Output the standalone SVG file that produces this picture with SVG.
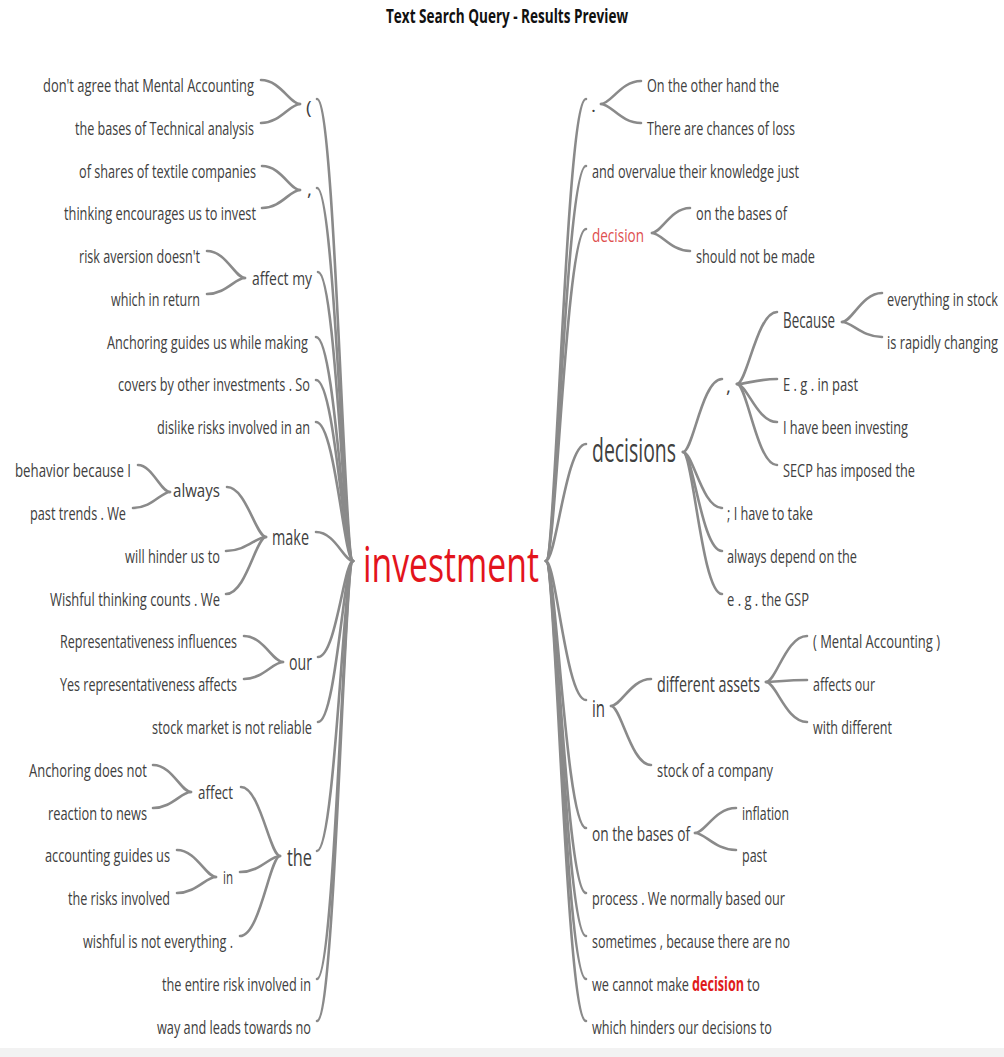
<svg xmlns="http://www.w3.org/2000/svg" width="1004" height="1057" viewBox="0 0 1004 1057">
  <style>
    text { font-family: "Open Sans", "Noto Sans", "DejaVu Sans", sans-serif; fill: #404040; }
    .leaf { font-size: 19px; }
    .mid { font-size: 21px; }
    .title { font-size: 19px; font-weight: bold; fill: #111; }
    .root { font-size: 50px; fill: #e3141c; }
    .hl { fill: #de4f4f; }
    .hlb { fill: #e01b1b; font-weight: bold; }
    #connectors path { fill: none; stroke: #8a8a8a; stroke-width: 2.6; stroke-linecap: round; }
  </style>

  <rect x="0" y="0" width="1004" height="1057" fill="#ffffff"/>
  <rect x="0" y="1048" width="1004" height="9" fill="#f2f2f2"/>

  <text class="title" x="386" y="23" textLength="242" lengthAdjust="spacingAndGlyphs">Text Search Query - Results Preview</text>

  <g id="connectors">
    <!-- root to left branches -->
    <path d="M353 561 C344 561 335 99 317 99"/>
    <path d="M353 561 C344 561 335 188 317 188"/>
    <path d="M353 561 C344 561 336 272 318 272"/>
    <path d="M353 561 C344 561 335 337 316 337"/>
    <path d="M353 561 C344 561 335 380 316 380"/>
    <path d="M353 561 C344 561 335 422 316 422"/>
    <path d="M353 561 C344 561 335 532 316 532"/>
    <path d="M353 561 C344 561 336 657 318 657"/>
    <path d="M353 561 C344 561 336 722 318 722"/>
    <path d="M353 561 C344 561 335 851 317 851"/>
    <path d="M353 561 C344 561 335 979 317 979"/>
    <path d="M353 561 C344 561 335 1021 317 1021"/>
    <!-- root to right branches -->
    <path d="M546 561 C556 561 566 99 586 99"/>
    <path d="M546 561 C556 561 566 166 586 166"/>
    <path d="M546 561 C556 561 566 229 586 229"/>
    <path d="M546 561 C556 561 566 444 586 444"/>
    <path d="M546 561 C556 561 566 700 586 700"/>
    <path d="M546 561 C556 561 566 828 586 828"/>
    <path d="M546 561 C556 561 566 893 586 893"/>
    <path d="M546 561 C556 561 566 936 586 936"/>
    <path d="M546 561 C556 561 566 979 586 979"/>
    <path d="M546 561 C556 561 566 1021 586 1021"/>
    <!-- left sub-branches -->
    <path d="M300 104 C290 104 280 80 261 80"/>
    <path d="M300 104 C290 104 280 123 261 123"/>
    <path d="M300 190 C290 190 281 166 262 166"/>
    <path d="M300 190 C290 190 281 208 262 208"/>
    <path d="M245 278 C235 278 226 251 207 251"/>
    <path d="M245 278 C235 278 226 294 207 294"/>
    <path d="M266 537 C256 537 246 487 227 487"/>
    <path d="M266 537 C256 537 246 551 226 551"/>
    <path d="M266 537 C256 537 246 594 226 594"/>
    <path d="M170 492 C161 492 152 465 138 465"/>
    <path d="M170 492 C161 492 152 508 133 508"/>
    <path d="M283 662 C273 662 263 636 244 636"/>
    <path d="M283 662 C273 662 263 679 244 679"/>
    <path d="M280 856 C270 856 260 787 241 787"/>
    <path d="M280 856 C270 856 260 872 240 872"/>
    <path d="M280 856 C270 856 260 936 240 936"/>
    <path d="M191 792 C181 792 172 765 153 765"/>
    <path d="M191 792 C181 792 172 808 153 808"/>
    <path d="M216 877 C206 877 196 850 177 850"/>
    <path d="M216 877 C206 877 196 893 177 893"/>
    <!-- right sub-branches -->
    <path d="M601 104 C611 104 621 81 641 81"/>
    <path d="M601 104 C611 104 621 123 641 123"/>
    <path d="M652 233 C661 233 671 208 690 208"/>
    <path d="M652 233 C661 233 671 251 690 251"/>
    <path d="M683 452 C693 452 702 379 722 379"/>
    <path d="M683 452 C693 452 702 508 722 508"/>
    <path d="M683 452 C693 452 702 551 722 551"/>
    <path d="M683 452 C693 452 702 594 722 594"/>
    <path d="M737 384 C747 384 757 312 777 312"/>
    <path d="M737 384 C747 384 757 379 777 379"/>
    <path d="M737 384 C747 384 757 422 777 422"/>
    <path d="M737 384 C747 384 757 465 777 465"/>
    <path d="M842 322 C852 322 862 293 882 293"/>
    <path d="M842 322 C852 322 862 337 882 337"/>
    <path d="M611 706 C621 706 631 679 651 679"/>
    <path d="M611 706 C621 706 631 765 651 765"/>
    <path d="M766 682 C776 682 786 636 807 636"/>
    <path d="M766 682 C776 682 786 680 807 680"/>
    <path d="M766 682 C776 682 786 722 807 722"/>
    <path d="M695 833 C705 833 715 808 736 808"/>
    <path d="M695 833 C705 833 715 850 736 850"/>
  </g>

  <g id="n-investment"><text class="root" x="363" y="582" textLength="176" lengthAdjust="spacingAndGlyphs">investment</text></g>

  <!-- left side -->
  <g id="n-paren"><text class="leaf" x="306" y="114">(</text></g>
  <g id="n-l1"><text class="leaf" x="43" y="92" textLength="211" lengthAdjust="spacingAndGlyphs">don't agree that Mental Accounting</text></g>
  <g id="n-l2"><text class="leaf" x="75" y="135" textLength="179" lengthAdjust="spacingAndGlyphs">the bases of Technical analysis</text></g>
  <g id="n-comma-l"><text class="leaf" x="307" y="196">,</text></g>
  <g id="n-l3"><text class="leaf" x="79" y="178" textLength="177" lengthAdjust="spacingAndGlyphs">of shares of textile companies</text></g>
  <g id="n-l4"><text class="leaf" x="64" y="220" textLength="192" lengthAdjust="spacingAndGlyphs">thinking encourages us to invest</text></g>
  <g id="n-affect-my"><text class="leaf" x="252" y="285" textLength="60" lengthAdjust="spacingAndGlyphs">affect my</text></g>
  <g id="n-l5"><text class="leaf" x="79" y="263" textLength="121" lengthAdjust="spacingAndGlyphs">risk aversion doesn't</text></g>
  <g id="n-l6"><text class="leaf" x="111" y="306" textLength="89" lengthAdjust="spacingAndGlyphs">which in return</text></g>
  <g id="n-l7"><text class="leaf" x="107" y="349" textLength="201" lengthAdjust="spacingAndGlyphs">Anchoring guides us while making</text></g>
  <g id="n-l8"><text class="leaf" x="118" y="391" textLength="192" lengthAdjust="spacingAndGlyphs">covers by other investments . So</text></g>
  <g id="n-l9"><text class="leaf" x="157" y="434" textLength="153" lengthAdjust="spacingAndGlyphs">dislike risks involved in an</text></g>
  <g id="n-make"><text class="mid" x="272" y="545" textLength="37" lengthAdjust="spacingAndGlyphs">make</text></g>
  <g id="n-always"><text class="leaf" x="173" y="497" textLength="47" lengthAdjust="spacingAndGlyphs">always</text></g>
  <g id="n-l10"><text class="leaf" x="15" y="477" textLength="116" lengthAdjust="spacingAndGlyphs">behavior because I</text></g>
  <g id="n-l11"><text class="leaf" x="30" y="520" textLength="96" lengthAdjust="spacingAndGlyphs">past trends . We</text></g>
  <g id="n-l12"><text class="leaf" x="125" y="563" textLength="95" lengthAdjust="spacingAndGlyphs">will hinder us to</text></g>
  <g id="n-l13"><text class="leaf" x="50" y="606" textLength="170" lengthAdjust="spacingAndGlyphs">Wishful thinking counts . We</text></g>
  <g id="n-our"><text class="mid" x="289" y="670" textLength="23" lengthAdjust="spacingAndGlyphs">our</text></g>
  <g id="n-l14"><text class="leaf" x="60" y="648" textLength="177" lengthAdjust="spacingAndGlyphs">Representativeness influences</text></g>
  <g id="n-l15"><text class="leaf" x="60" y="691" textLength="177" lengthAdjust="spacingAndGlyphs">Yes representativeness affects</text></g>
  <g id="n-l16"><text class="leaf" x="152" y="734" textLength="160" lengthAdjust="spacingAndGlyphs">stock market is not reliable</text></g>
  <g id="n-the"><text class="mid" x="287" y="866" style="font-size:23px" textLength="25" lengthAdjust="spacingAndGlyphs">the</text></g>
  <g id="n-affect"><text class="leaf" x="198" y="799" textLength="35" lengthAdjust="spacingAndGlyphs">affect</text></g>
  <g id="n-l17"><text class="leaf" x="29" y="777" textLength="118" lengthAdjust="spacingAndGlyphs">Anchoring does not</text></g>
  <g id="n-l18"><text class="leaf" x="48" y="820" textLength="99" lengthAdjust="spacingAndGlyphs">reaction to news</text></g>
  <g id="n-in-l"><text class="leaf" x="223" y="884" textLength="10" lengthAdjust="spacingAndGlyphs">in</text></g>
  <g id="n-l19"><text class="leaf" x="45" y="862" textLength="125" lengthAdjust="spacingAndGlyphs">accounting guides us</text></g>
  <g id="n-l20"><text class="leaf" x="68" y="905" textLength="102" lengthAdjust="spacingAndGlyphs">the risks involved</text></g>
  <g id="n-l21"><text class="leaf" x="83" y="948" textLength="150" lengthAdjust="spacingAndGlyphs">wishful is not everything .</text></g>
  <g id="n-l22"><text class="leaf" x="162" y="991" textLength="149" lengthAdjust="spacingAndGlyphs">the entire risk involved in</text></g>
  <g id="n-l23"><text class="leaf" x="157" y="1034" textLength="154" lengthAdjust="spacingAndGlyphs">way and leads towards no</text></g>

  <!-- right side -->
  <g id="n-dot"><text class="leaf" x="591" y="112">.</text></g>
  <g id="n-r1"><text class="leaf" x="647" y="92" textLength="132" lengthAdjust="spacingAndGlyphs">On the other hand the</text></g>
  <g id="n-r2"><text class="leaf" x="647" y="135" textLength="148" lengthAdjust="spacingAndGlyphs">There are chances of loss</text></g>
  <g id="n-r3"><text class="leaf" x="592" y="178" textLength="207" lengthAdjust="spacingAndGlyphs">and overvalue their knowledge just</text></g>
  <g id="n-decision"><text class="leaf hl" x="592" y="242" textLength="52" lengthAdjust="spacingAndGlyphs">decision</text></g>
  <g id="n-r4"><text class="leaf" x="696" y="220" textLength="91" lengthAdjust="spacingAndGlyphs">on the bases of</text></g>
  <g id="n-r5"><text class="leaf" x="696" y="263" textLength="119" lengthAdjust="spacingAndGlyphs">should not be made</text></g>
  <g id="n-decisions"><text x="592" y="462" style="font-size:32px" textLength="84" lengthAdjust="spacingAndGlyphs">decisions</text></g>
  <g id="n-comma-r"><text class="leaf" x="726" y="393">,</text></g>
  <g id="n-because"><text class="mid" x="783" y="328" textLength="52" lengthAdjust="spacingAndGlyphs">Because</text></g>
  <g id="n-r6"><text class="leaf" x="887" y="306" textLength="111" lengthAdjust="spacingAndGlyphs">everything in stock</text></g>
  <g id="n-r7"><text class="leaf" x="887" y="349" textLength="111" lengthAdjust="spacingAndGlyphs">is rapidly changing</text></g>
  <g id="n-r8"><text class="leaf" x="783" y="391" textLength="75" lengthAdjust="spacingAndGlyphs">E . g . in past</text></g>
  <g id="n-r9"><text class="leaf" x="783" y="434" textLength="125" lengthAdjust="spacingAndGlyphs">I have been investing</text></g>
  <g id="n-r10"><text class="leaf" x="783" y="477" textLength="132" lengthAdjust="spacingAndGlyphs">SECP has imposed the</text></g>
  <g id="n-r11"><text class="leaf" x="727" y="520" textLength="86" lengthAdjust="spacingAndGlyphs">; I have to take</text></g>
  <g id="n-r12"><text class="leaf" x="727" y="563" textLength="130" lengthAdjust="spacingAndGlyphs">always depend on the</text></g>
  <g id="n-r13"><text class="leaf" x="727" y="606" textLength="82" lengthAdjust="spacingAndGlyphs">e . g . the GSP</text></g>
  <g id="n-in-r"><text x="592" y="717" style="font-size:24px" textLength="13" lengthAdjust="spacingAndGlyphs">in</text></g>
  <g id="n-assets"><text class="mid" x="657" y="692" textLength="103" lengthAdjust="spacingAndGlyphs">different assets</text></g>
  <g id="n-r14"><text class="leaf" x="813" y="648" textLength="127" lengthAdjust="spacingAndGlyphs">( Mental Accounting )</text></g>
  <g id="n-r15"><text class="leaf" x="813" y="691" textLength="62" lengthAdjust="spacingAndGlyphs">affects our</text></g>
  <g id="n-r16"><text class="leaf" x="813" y="734" textLength="79" lengthAdjust="spacingAndGlyphs">with different</text></g>
  <g id="n-r17"><text class="leaf" x="657" y="777" textLength="116" lengthAdjust="spacingAndGlyphs">stock of a company</text></g>
  <g id="n-bases"><text x="592" y="841" style="font-size:20.5px" textLength="98" lengthAdjust="spacingAndGlyphs">on the bases of</text></g>
  <g id="n-r18"><text class="leaf" x="742" y="820" textLength="47" lengthAdjust="spacingAndGlyphs">inflation</text></g>
  <g id="n-r19"><text class="leaf" x="742" y="862" textLength="25" lengthAdjust="spacingAndGlyphs">past</text></g>
  <g id="n-r20"><text class="leaf" x="592" y="905" textLength="193" lengthAdjust="spacingAndGlyphs">process . We normally based our</text></g>
  <g id="n-r21"><text class="leaf" x="592" y="948" textLength="198" lengthAdjust="spacingAndGlyphs">sometimes , because there are no</text></g>
  <g id="n-r22"><text class="leaf" y="991"><tspan x="592" textLength="97" lengthAdjust="spacingAndGlyphs">we cannot make</tspan><tspan class="hlb" x="692" textLength="52" lengthAdjust="spacingAndGlyphs">decision</tspan><tspan x="747" textLength="13" lengthAdjust="spacingAndGlyphs">to</tspan></text></g>
  <g id="n-r23"><text class="leaf" x="592" y="1034" textLength="180" lengthAdjust="spacingAndGlyphs">which hinders our decisions to</text></g>
</svg>
